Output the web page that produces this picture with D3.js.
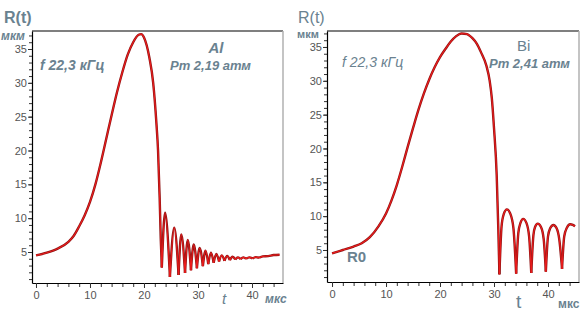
<!DOCTYPE html>
<html>
<head>
<meta charset="utf-8">
<script src="https://cdn.jsdelivr.net/npm/d3@7"></script>
<style>
  body { margin: 0; background: #fff; }
  svg { display: block; font-family: "Liberation Sans", Arial, sans-serif; }
</style>
</head>
<body>
<svg id="chart" width="588" height="313"></svg>
<script>
// Al bubble, R(t) in мкм vs t in мкс
const tAl = [0, 2, 4, 6, 7, 8, 9, 10, 11, 12, 13, 14, 15, 16, 17, 18, 19, 19.5, 20, 21, 21.7, 22.3, 22.6, 22.9, 23.1, 23.3,
  23.9, 24.8, 25.6, 26.4, 26.9, 27.6, 28.1, 28.7, 29.2, 29.8, 30.3, 30.9, 31.4, 31.9, 32.4, 32.9, 33.4, 33.9, 34.4,
  34.9, 35.4, 35.9, 36.4, 36.9, 37.4, 37.9, 38.4, 38.9, 39.5, 40.1, 40.7, 41.3, 42, 43, 44, 45.1];
const rAl = [4.5, 4.9, 5.5, 6.5, 7.4, 8.8, 10.4, 12.4, 15.0, 18.2, 21.7, 25.2, 28.6, 31.6, 34.2, 36.0, 37.1, 37.2, 36.7, 33.7, 30.0, 24.0, 20.0, 13.0, 7.0, 2.7,
  10.8, 1.3, 8.6, 1.6, 7.6, 1.9, 6.8, 2.3, 6.1, 2.6, 5.6, 2.9, 5.2, 3.2, 4.9, 3.4, 4.7, 3.6, 4.5,
  3.7, 4.4, 3.8, 4.3, 3.9, 4.2, 3.95, 4.2, 4.0, 4.2, 4.05, 4.25, 4.15, 4.35, 4.4, 4.55, 4.6];

// Bi bubble
const tBi = [0, 2, 4, 5.5, 7, 8.6, 10, 11, 12, 13, 14, 15, 16, 17, 18, 19, 20, 21, 22, 23, 24, 25, 26, 26.8, 27.6, 28.6, 29.2, 29.6, 30.0, 30.5, 30.8, 31.0,
  31.4, 31.8, 32.4, 33.0, 33.6, 34.1,
  34.5, 34.9, 35.4, 36.0, 36.5, 36.9,
  37.3, 37.6, 38.1, 38.7, 39.2, 39.6,
  40.0, 40.4, 41.0, 41.6, 42.1, 42.6,
  43.0, 43.5, 44.1, 44.6, 45.0];
const rBi = [4.5, 5.0, 5.5, 6.0, 6.9, 8.5, 10.4, 12.3, 14.6, 17.3, 20.2, 23.0, 25.7, 28.1, 30.2, 32.0, 33.5, 34.7, 35.8, 36.6, 37.0, 36.9, 36.3, 35.5, 34.2, 32.2, 30.0, 27.4, 23.0, 16.0, 8.0, 1.4,
  8.5, 10.3, 11.0, 10.4, 8.2, 1.5,
  7.5, 9.0, 9.6, 9.0, 7.0, 1.6,
  7.2, 8.4, 8.9, 8.4, 6.6, 1.8,
  7.0, 8.2, 8.7, 8.2, 6.5, 2.2,
  7.0, 8.3, 8.8, 8.7, 8.5];

const xTicks = [0, 10, 20, 30, 40];
const yTicks = [5, 10, 15, 20, 25, 30, 35];

const svg = d3.select("#chart");
const labelColor = "#6a8290";

function drawPanel(cfg) {
    const x = d3.scaleLinear().domain(cfg.xDomain).range([cfg.left, cfg.right]);
    const y = d3.scaleLinear().domain(cfg.yDomain).range([cfg.bottom, cfg.top]);
    const g = svg.append("g");

    // frame: top black, right grey
    g.append("line").attr("x1", cfg.left).attr("x2", cfg.right).attr("y1", cfg.top).attr("y2", cfg.top)
        .attr("stroke", "#000").attr("stroke-width", 1.2);
    g.append("line").attr("x1", cfg.right).attr("x2", cfg.right).attr("y1", cfg.top).attr("y2", cfg.bottom)
        .attr("stroke", "#b0b0b0").attr("stroke-width", 1.5);

    /* X-axis */
    const minorX = d3.range(0, 46, 2);
    g.append("g")
        .attr("transform", `translate(0, ${cfg.bottom})`)
        .call(d3.axisBottom(x).tickValues(minorX).tickSize(4).tickFormat(""))
        .call(a => a.select(".domain").remove());
    const xa = g.append("g")
        .attr("transform", `translate(0, ${cfg.bottom})`)
        .call(d3.axisBottom(x).tickValues(xTicks).tickSize(5).tickPadding(3).tickSizeOuter(0));

    /* Y-axis */
    const minorY = d3.range(1, 38, 1);
    g.append("g")
        .attr("transform", `translate(${cfg.left}, 0)`)
        .call(d3.axisLeft(y).tickValues(minorY).tickSize(3).tickFormat(""))
        .call(a => a.select(".domain").remove());
    const ya = g.append("g")
        .attr("transform", `translate(${cfg.left}, 0)`)
        .call(d3.axisLeft(y).tickValues(yTicks).tickSize(4).tickPadding(1).tickSizeOuter(0));

    [xa, ya].forEach(a => {
        a.select(".domain").attr("stroke", "#000").attr("stroke-width", 1.2);
        a.selectAll("text").attr("font-size", 11).attr("fill", "#555")
            .attr("font-family", "'Liberation Sans', Arial, sans-serif");
    });
    g.selectAll(".tick line").attr("stroke", "#333");

    // split the curve at its local minima so each bounce meets in a cusp
    const pts = cfg.t.map((t, i) => [t, cfg.r[i]]);
    const segs = [];
    let cur = [pts[0]];
    for (let i = 1; i < pts.length; i++) {
        cur.push(pts[i]);
        if (i < pts.length - 1 && pts[i][1] < pts[i - 1][1] && pts[i][1] < pts[i + 1][1]) {
            segs.push(cur);
            cur = [pts[i]];
        }
    }
    segs.push(cur);

    const line = d3.line().x(d => x(d[0])).y(d => y(d[1])).curve(d3.curveMonotoneX);
    g.selectAll("path.under").data(segs).enter().append("path")
        .attr("class", "under").attr("d", line)
        .attr("fill", "none").attr("stroke", "#8e1414").attr("stroke-width", 2.4)
        .attr("stroke-linejoin", "round");
    g.selectAll("path.over").data(segs).enter().append("path")
        .attr("class", "over").attr("d", line)
        .attr("fill", "none").attr("stroke", "#ee1c1c").attr("stroke-width", 1.1)
        .attr("stroke-linejoin", "round");

    cfg.labels.forEach(l => {
        g.append("text")
            .attr("x", l.x).attr("y", l.y)
            .attr("font-size", l.size)
            .attr("font-weight", l.bold ? "bold" : "normal")
            .attr("font-style", l.italic ? "italic" : "normal")
            .attr("text-anchor", l.anchor || "start")
            .attr("fill", labelColor)
            .text(l.text);
    });
}

drawPanel({
    t: tAl, r: rAl,
    left: 32, right: 283, top: 31, bottom: 283,
    xDomain: [-0.74, 45.74], yDomain: [0.42, 37.66],
    labels: [
        { text: "R(t)", x: 4, y: 23, size: 16, bold: true },
        { text: "мкм", x: 1, y: 40, size: 12, bold: true, italic: true },
        { text: "f 22,3 кГц", x: 40, y: 70, size: 14, bold: true, italic: true },
        { text: "Al", x: 216, y: 53, size: 15, bold: true, italic: true, anchor: "middle" },
        { text: "Pm 2,19 атм", x: 170, y: 70, size: 13, bold: true, italic: true },
        { text: "t", x: 222, y: 304, size: 15, italic: true },
        { text: "мкс", x: 265, y: 303, size: 12, bold: true, italic: true }
    ]
});

drawPanel({
    t: tBi, r: rBi,
    left: 327, right: 579, top: 31, bottom: 282,
    xDomain: [-0.93, 45.74], yDomain: [0.27, 37.36],
    labels: [
        { text: "R(t)", x: 298, y: 23, size: 16 },
        { text: "мкм", x: 297, y: 38, size: 11, bold: true },
        { text: "f 22,3 кГц", x: 342, y: 67, size: 14, italic: true },
        { text: "Bi", x: 517, y: 51, size: 15 },
        { text: "Pm 2,41 атм", x: 489, y: 68, size: 13, bold: true, italic: true },
        { text: "R0", x: 347, y: 262, size: 15, bold: true },
        { text: "t", x: 516, y: 308, size: 19 },
        { text: "мкс", x: 558, y: 308, size: 12, bold: true }
    ]
});
</script>
</body>
</html>
